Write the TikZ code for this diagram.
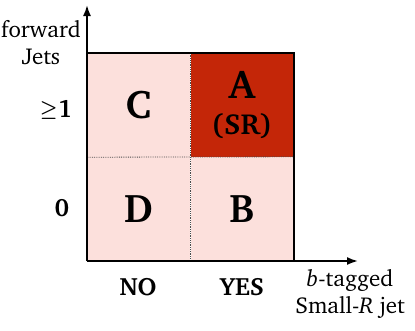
\documentclass[tikz,border=0pt]{standalone}
\usepackage[T1]{fontenc}
\usepackage{charter}
\usepackage{tikz}
\usetikzlibrary{positioning,arrows.meta}
\definecolor{srred}{RGB}{196,38,8}
\definecolor{ctrlpink}{RGB}{252,224,220}

\begin{document}
\begin{tikzpicture}[x=1pt,y=-1pt,>={Latex[length=11pt,width=8pt]},
    cell/.style={minimum width=103pt,minimum height=104pt,inner sep=0pt,align=center,
      font=\fontsize{40}{42}\selectfont\bfseries},
    axis/.style={line width=1.8pt,->},
    tick/.style={font=\fontsize{25}{28}\selectfont\bfseries\boldmath},
    title/.style={font=\fontsize{23}{27}\selectfont,align=center}]
  \useasboundingbox (0,0) rectangle (415,330);
  \coordinate (O) at (87,261);
  \coordinate (Ytip) at (87,5);
  \coordinate (Xtip) at (358,261);
  % the four regions
  \node[cell,fill=ctrlpink] (C) at (138.5,105) {C};
  \node[cell,fill=srred] (A) at (242,105) {A\\[-6pt]\fontsize{29}{32}\selectfont(SR)};
  \node[cell,fill=ctrlpink] (D) at (138.5,209) {D};
  \node[cell,fill=ctrlpink] (B) at (242,209) {B};
  \draw[densely dotted,line width=0.8pt,black!70] (C.north east) -- (D.south east);
  \draw[densely dotted,line width=0.8pt,black!70] (C.south west) -- (B.north east);
  \draw[line width=1.8pt] (C.north west) -- (A.north east) -- (B.south east);
  % axes
  \draw[axis] (O) -- (Xtip);
  \draw[axis] (O) -- (Ytip);
  \node[tick] (one) at (56,110) {\raisebox{1.5pt}{\scalebox{0.8}{$\geq$}}1};
  \node[tick] (zero) at (62,208) {0};
  \node[tick] (no) at (138,287) {NO};
  \node[tick] (yes) at (242,287) {YES};
  \node[title] (ytitle) at (41,43) {forward\\Jets};
  \node[title] (xtitle) at (350,294) {\textit{b}-tagged\\Small-\textit{R} jet};
\end{tikzpicture}
\end{document}
